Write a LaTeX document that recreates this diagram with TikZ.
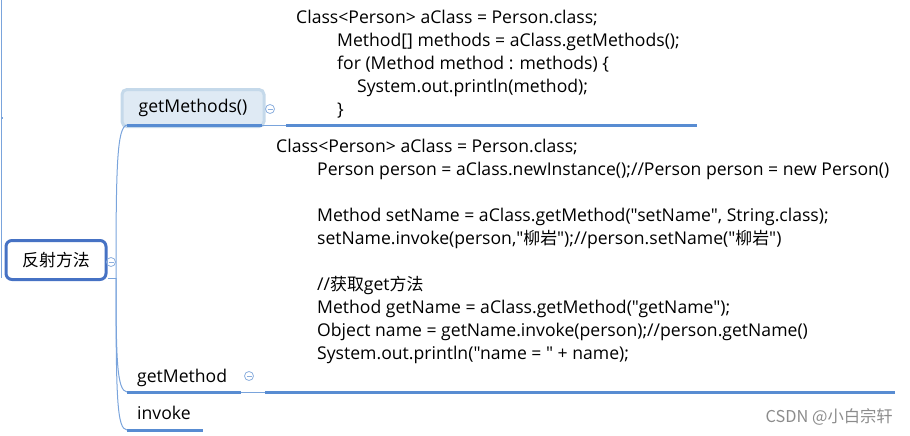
\documentclass[tikz,border=0pt]{standalone}
\usepackage{fontspec}
\setmainfont{Open Sans}[Ligatures=TeXOff]
\newfontfamily\cjk{Noto Sans CJK SC}[Scale=0.96]
\usetikzlibrary{calc}

\definecolor{rootblue}{RGB}{70,114,196}
\definecolor{linkblue}{RGB}{122,164,220}
\definecolor{barblue}{RGB}{88,140,210}
\definecolor{subfill}{RGB}{223,234,244}
\definecolor{subedge}{RGB}{197,217,234}
\definecolor{foldblue}{RGB}{140,175,222}

\begin{document}
\begin{tikzpicture}[x=1pt, y=-1pt, font=\fontsize{17.6}{23}\selectfont,
    rootbox/.style={draw=rootblue, line width=3pt, rounded corners=6pt, fill=white,
      minimum width=100pt, minimum height=39pt, inner sep=0pt},
    subbox/.style={draw=subedge, line width=3pt, rounded corners=5pt, fill=subfill,
      minimum width=142pt, minimum height=37pt, inner sep=0pt},
    bar/.style={draw=barblue, line width=3pt},
    link/.style={draw=linkblue, line width=1pt},
    code/.style={anchor=north west, align=left, inner sep=0pt},
    leaf/.style={anchor=base west, inner sep=0pt},
    fold/.style={circle, draw=foldblue, line width=0.8pt, minimum size=9pt, inner sep=0pt,
      path picture={\draw[foldblue, line width=0.8pt]
        ([xshift=-2.5pt]path picture bounding box.center) -- ([xshift=2.5pt]path picture bounding box.center);}}]
		\useasboundingbox (0,0) rectangle (910,436);
		% left edge of the parent map
		\draw[link] (1,0) -- (1,278);
		\draw[link, line width=1.5pt] (1,118) -- (3,118);
		% root
		\node[rootbox] (root) at (56,260) {{\cjk 反射方法}};
		\draw[rootblue, line width=2pt] ($(root.south west)+(6,-2)$) -- ($(root.south east)+(-6,-2)$);
		\node[fold] (rootfold) at (111,262) {};
		\coordinate (fork) at (116,278);
		\draw[link] (root.east |- fork) -- (fork);
		% getMethods()
		\node[subbox] (gms) at (193,108) {getMethods()};
		\node[fold] (gmsfold) at (270,109) {};
		\coordinate (gms-a) at (127,125);
		\coordinate (gms-b) at (262,125);
		\coordinate (gms-c) at (286,125);
		\coordinate (gms-d) at (697,125);
		\draw[bar] (gms-a) -- (gms-b);
		\draw[link] (gms-b) -- (gms-c);
		\draw[bar] (gms-c) -- (gms-d);
		\node[code] (codeA) at (296,9.5) {Class<Person> aClass = Person.class;\\
			\hspace*{41pt}Method[] methods = aClass.getMethods();\\
			\hspace*{41pt}for (Method method : methods) \{\\
			\hspace*{61pt}System.out.println(method);\\
			\hspace*{41pt}\}};
		% getMethod
		\node[leaf] (gm) at (137,382) {getMethod};
		\node[fold] (gmfold) at (249,376) {};
		\coordinate (gm-a) at (127,392);
		\coordinate (gm-b) at (241,392);
		\coordinate (gm-c) at (265,392);
		\coordinate (gm-d) at (895,392);
		\draw[bar] (gm-a) -- (gm-b);
		\draw[link] (gm-b) -- (gm-c);
		\draw[bar] (gm-c) -- (gm-d);
		\node[code] (codeB) at (276,138.5) {Class<Person> aClass = Person.class;\\
			\hspace*{41pt}Person person = aClass.newInstance();//Person person = new Person()\\[23pt]
			\hspace*{41pt}Method setName = aClass.getMethod("setName", String.class);\\
			\hspace*{41pt}setName.invoke(person,"{\cjk 柳岩}");//person.setName("{\cjk 柳岩}")\\[23pt]
			\hspace*{41pt}//{\cjk 获取}get{\cjk 方法}\\
			\hspace*{41pt}Method getName = aClass.getMethod("getName");\\
			\hspace*{41pt}Object name = getName.invoke(person);//person.getName()\\
			\hspace*{41pt}System.out.println("name = " + name);};
		% invoke
		\node[leaf] (inv) at (137,419) {invoke};
		\coordinate (inv-a) at (127,430);
		\coordinate (inv-b) at (203,430);
		\draw[bar] (inv-a) -- (inv-b);
		% branches
		\draw[link] (fork) .. controls (116,165) and (117,127) .. (gms-a);
		\draw[link] (fork) .. controls (116,360) and (117,391) .. (gm-a);
		\draw[link] (fork) .. controls (116,400) and (117,429) .. (inv-a);
		% watermark
		\node[anchor=base east, inner sep=0pt, text=black!45, font=\cjk\fontsize{17}{17}\selectfont] (mark) at (893,422) {CSDN @小白宗轩};
	\end{tikzpicture}
\end{document}
